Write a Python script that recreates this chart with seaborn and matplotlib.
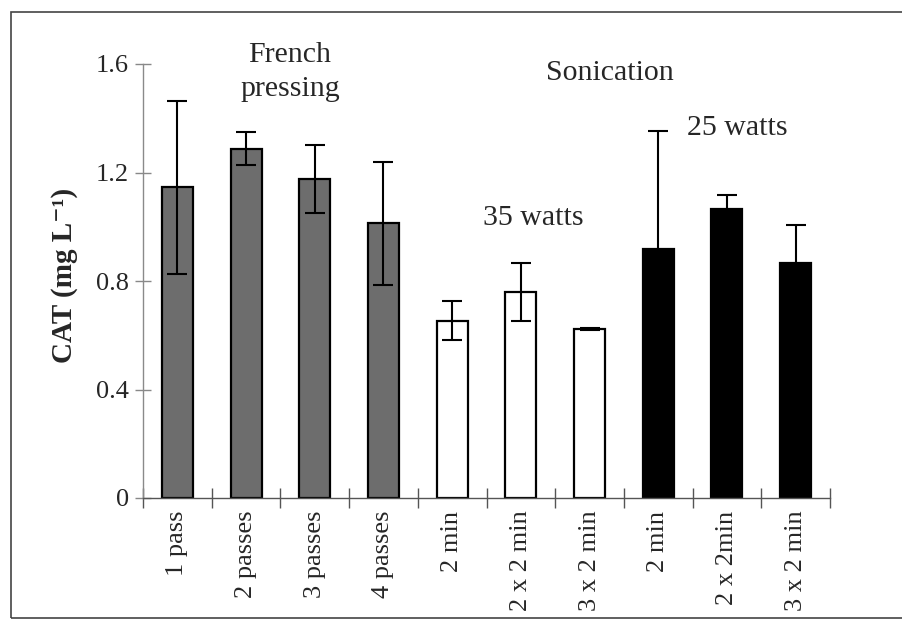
import matplotlib
matplotlib.use("Agg")
import matplotlib.pyplot as plt
from matplotlib.patches import Rectangle
from matplotlib.ticker import FixedLocator
import numpy as np
import pandas as pd
import seaborn as sns

# Catalase recovered after cell disruption (mean and error)
labels = ["1 pass", "2 passes", "3 passes", "4 passes",
          "2 min", "2 x 2 min", "3 x 2 min",
          "2 min", "2 x 2min", "3 x 2 min"]
cat_mean = [1.145, 1.288, 1.177, 1.012, 0.654, 0.760, 0.622, 0.919, 1.066, 0.867]
cat_err = [0.318, 0.060, 0.125, 0.228, 0.072, 0.106, 0.004, 0.435, 0.050, 0.139]
groups = ["french"] * 4 + ["son35"] * 3 + ["son25"] * 3
group_colors = {"french": "#6d6d6d", "son35": "#ffffff", "son25": "#000000"}
yticks = [0, 0.4, 0.8, 1.2, 1.6]
ytick_labels = ["0", "0.4", "0.8", "1.2", "1.6"]

df = pd.DataFrame({"idx": np.arange(len(labels)), "cat": cat_mean,
                   "err": cat_err, "group": groups})

sns.set_theme(style="white")
plt.rcParams["font.family"] = ["Liberation Serif", "DejaVu Serif"]

fig = plt.figure(figsize=(9.02, 6.24), dpi=100)
ax = fig.add_axes([143 / 902, 1 - 498 / 624, (830 - 143) / 902, (498 - 64) / 624])

sns.barplot(data=df, x="idx", y="cat", hue="group", palette=group_colors,
            dodge=False, width=0.45, edgecolor="black", linewidth=1.6,
            legend=False, ax=ax, errorbar=None)

xs = np.arange(len(labels))
ax.errorbar(xs, cat_mean, yerr=cat_err, fmt="none", ecolor="black",
            elinewidth=1.5, capsize=7, capthick=1.5, zorder=5)

ax.set_xlim(-0.5, len(labels) - 0.5)
ax.set_ylim(0, 1.6)
ax.set_yticks(yticks)
ax.set_yticklabels(ytick_labels, fontsize=19)
ax.set_xticks(xs)
ax.set_xticklabels(labels, rotation=90, fontsize=19)
ax.xaxis.set_minor_locator(FixedLocator(np.arange(-0.5, len(labels), 1.0)))
ax.tick_params(axis="x", which="major", length=0, pad=9)
ax.tick_params(axis="x", which="minor", direction="inout", length=14,
               width=1.0, color="#555555", bottom=True)
ax.tick_params(axis="y", which="major", direction="inout", length=12,
               width=1.0, color="#888888", left=True, pad=4)

for side in ["top", "right"]:
    ax.spines[side].set_visible(False)
ax.spines["left"].set_color("#8a8a8a")
ax.spines["left"].set_linewidth(1.0)
ax.spines["bottom"].set_color("#555555")
ax.spines["bottom"].set_linewidth(1.0)

ax.set_xlabel("")
ax.set_ylabel("CAT (mg L\u207b\u00b9)", fontsize=21, fontweight="bold")
ax.yaxis.set_label_coords(-(143 - 78) / 687, (498 - 275) / 434)

def fig_text(x, y, s, ls=1.25):
    fig.text(x / 902, 1 - y / 624, s, ha="center", va="center", fontsize=21.5,
             linespacing=ls)

fig_text(290, 72, "French\npressing", ls=1.45)
fig_text(610, 73, "Sonication")
fig_text(533, 218, "35 watts")
fig_text(737, 128, "25 watts")

# Figure frame
fig.patches.append(Rectangle((11 / 902, 1 - 618 / 624), (930 - 11) / 902, (618 - 12) / 624,
                             transform=fig.transFigure, fill=False,
                             edgecolor="#444444", linewidth=1.2))

fig.savefig("out.png", dpi=100)
